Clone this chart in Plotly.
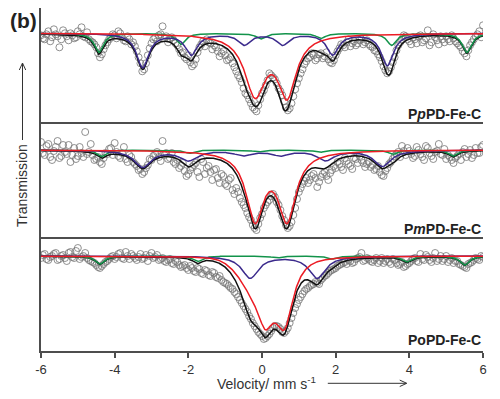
import numpy as np
import plotly.graph_objects as go

# ---------------- data (relative transmission, %) ----------------
# channels at whole tenths and at the half-steps in between (mm/s)
velocity_a = np.round(np.arange(-6.0, 6.0001, 0.1), 2)
velocity_b = np.round(np.arange(-5.95, 5.96, 0.1), 2)

ppd_data_a = [99.8, 99.4, 100.2, 99.6, 99.9, 98.6, 100.3, 99.7, 100.0, 99.5,
              100.2, 100.6, 99.6, 99.4, 99.1, 98.6, 97.6, 98.4, 99.1, 99.6,
              99.8, 100.2, 99.6, 99.2, 99.4, 99.1, 98.2, 97.0, 96.4, 97.8,
              99.0, 99.6, 99.8, 100.7, 99.7, 99.5, 99.3, 98.8, 98.0, 97.6,
              97.8, 96.7, 97.4, 98.6, 99.2, 99.4, 99.0, 98.8, 98.2, 98.0,
              97.8, 97.4, 97.0, 96.2, 95.5, 94.5, 93.8, 93.0, 92.4, 92.8,
              94.0, 94.8, 96.0, 95.6, 95.0, 94.2, 93.2, 92.3, 93.0, 94.4,
              95.5, 96.4, 97.2, 97.6, 97.8, 97.5, 98.0, 97.7, 97.4, 97.0,
              97.8, 98.5, 98.8, 99.1, 98.7, 99.2, 99.0, 99.4, 99.1, 98.9,
              98.6, 98.2, 97.6, 96.7, 96.0, 96.6, 97.6, 98.8, 99.4, 99.7,
              99.2, 99.6, 99.0, 99.8, 99.3, 100.3, 99.1, 99.6, 98.9, 99.4,
              99.7, 99.2, 99.5, 99.0, 98.6, 98.0, 98.3, 99.1, 99.7, 100.2,
              100.8]
ppd_data_b = [99.5, 99.9, 99.2, 100.4, 99.7, 99.4, 100.0, 99.3, 99.8, 99.6,
              99.9, 99.7, 100.1, 99.2, 98.9, 98.0, 97.9, 98.8, 99.4, 99.9,
              99.5, 100.0, 99.3, 99.7, 98.9, 98.7, 97.6, 96.2, 97.0, 98.5,
              99.4, 99.2, 99.9, 99.5, 99.1, 99.6, 99.0, 98.4, 98.1, 97.4,
              97.1, 96.9, 98.1, 98.9, 98.7, 99.1, 98.4, 98.6, 97.7, 98.2,
              97.3, 97.6, 96.6, 95.8, 95.1, 94.0, 93.4, 92.6, 92.2, 93.4,
              94.3, 95.3, 95.8, 95.4, 94.5, 93.8, 92.6, 92.5, 93.7, 95.0,
              96.0, 96.9, 97.5, 98.0, 97.3, 97.9, 97.5, 98.1, 97.1, 97.3,
              98.2, 98.9, 98.6, 99.4, 99.0, 98.8, 99.3, 98.9, 99.3, 98.7,
              98.3, 97.9, 97.2, 96.3, 96.2, 97.1, 98.3, 99.1, 99.8, 99.4,
              98.9, 99.4, 99.7, 99.1, 99.5, 98.8, 99.9, 99.3, 99.7, 99.1,
              99.4, 99.8, 99.2, 98.8, 98.2, 97.7, 98.8, 99.4, 99.9, 99.6]

mpd_data_a = [100.8, 99.5, 100.6, 99.0, 100.3, 99.2, 100.5, 99.6, 98.8, 100.2,
              99.4, 99.7, 101.8, 99.8, 99.5, 99.1, 98.8, 99.2, 99.6, 100.2,
              100.7, 99.4, 99.7, 99.1, 99.5, 98.8, 98.4, 98.1, 97.8, 98.5,
              99.0, 99.6, 99.3, 100.9, 99.7, 99.2, 98.8, 99.0, 98.4, 97.9,
              97.6, 98.3, 98.7, 97.3, 98.8, 98.2, 97.8, 98.0, 97.2, 97.6,
              96.6, 97.0, 96.0, 96.2, 95.2, 94.5, 93.7, 93.0, 92.2, 92.6,
              93.6, 94.5, 95.0, 95.6, 94.8, 94.0, 93.0, 92.2, 92.8, 94.2,
              95.8, 96.6, 97.2, 97.0, 97.6, 96.3, 97.3, 97.8, 97.0, 98.0,
              98.2, 98.6, 98.0, 98.9, 98.4, 99.2, 98.7, 99.0, 98.3, 98.8,
              98.5, 98.1, 97.8, 97.4, 98.2, 98.8, 99.4, 99.8, 100.4, 99.5,
              99.9, 99.2, 100.3, 99.6, 99.0, 100.2, 99.4, 99.8, 100.6, 99.5,
              99.1, 99.3, 98.7, 99.4, 99.0, 100.1, 99.6, 99.2, 100.2, 99.7,
              100.5]
mpd_data_b = [99.7, 100.4, 99.3, 99.9, 100.9, 99.4, 99.8, 100.5, 99.5, 99.1,
              100.3, 99.3, 99.6, 100.6, 99.0, 99.3, 98.6, 99.7, 100.1, 99.5,
              99.8, 99.2, 100.3, 98.8, 99.3, 98.6, 98.0, 97.6, 98.2, 99.1,
              99.4, 99.8, 98.9, 99.5, 99.1, 99.7, 98.6, 98.2, 98.7, 97.4,
              98.0, 98.5, 97.8, 99.1, 97.6, 98.4, 97.0, 98.1, 96.7, 97.4,
              96.4, 97.2, 95.6, 95.8, 94.8, 94.2, 93.3, 92.5, 92.0, 93.2,
              94.2, 94.8, 95.4, 95.3, 94.5, 93.4, 92.5, 92.4, 93.5, 95.1,
              96.2, 96.9, 96.7, 97.4, 97.2, 96.8, 97.6, 97.4, 97.7, 98.4,
              98.8, 98.3, 99.2, 98.6, 98.1, 99.1, 99.4, 98.7, 98.6, 98.3,
              98.0, 98.4, 97.5, 97.9, 98.6, 99.1, 99.6, 99.3, 99.9, 100.2,
              99.6, 99.4, 100.0, 99.3, 100.4, 99.7, 99.1, 99.9, 99.6, 100.1,
              99.5, 99.0, 99.2, 99.6, 99.8, 99.3, 100.0, 99.5, 99.7, 100.3]

opd_data_a = [99.8, 100.2, 99.6, 100.0, 100.3, 99.7, 100.1, 99.5, 100.4, 99.8,
              100.8, 99.9, 100.3, 99.6, 99.4, 99.1, 98.8, 99.2, 99.5, 99.9,
              99.7, 100.2, 99.8, 100.4, 99.7, 100.0, 99.6, 100.2, 99.8, 99.5,
              100.3, 99.9, 99.6, 99.8, 99.4, 99.7, 99.2, 99.4, 98.9, 99.1,
              98.6, 98.8, 98.4, 98.7, 98.2, 98.5, 98.0, 98.3, 97.8, 97.6,
              97.3, 97.0, 96.7, 96.2, 95.6, 95.0, 94.4, 93.7, 93.0, 92.4,
              92.0, 91.8, 92.2, 92.8, 93.0, 92.7, 92.3, 92.8, 93.8, 94.8,
              95.6, 96.2, 96.7, 97.0, 97.2, 97.3, 97.6, 98.0, 98.3, 98.6,
              98.8, 99.1, 99.3, 99.2, 99.5, 99.4, 99.8, 100.3, 99.6, 99.7,
              99.4, 99.8, 99.5, 99.3, 99.7, 99.2, 99.6, 99.1, 99.4, 99.0,
              99.3, 99.7, 99.5, 100.2, 99.6, 99.9, 99.4, 100.3, 99.7, 99.5,
              100.0, 99.6, 99.3, 99.5, 99.1, 98.9, 99.2, 99.4, 99.8, 99.6,
              99.9]
opd_data_b = [100.1, 99.7, 99.9, 100.2, 99.6, 100.0, 99.8, 100.3, 99.9, 100.5,
              99.7, 100.0, 99.8, 99.5, 99.3, 98.9, 99.0, 99.4, 99.7, 100.0,
              99.9, 100.3, 99.7, 100.0, 100.2, 99.8, 99.9, 99.7, 100.1, 100.0,
              99.8, 100.1, 99.7, 99.5, 99.6, 99.3, 99.5, 99.1, 99.0, 98.8,
              99.0, 98.5, 98.8, 98.3, 98.6, 98.1, 98.4, 97.9, 98.0, 97.4,
              97.2, 96.8, 96.4, 95.9, 95.3, 94.7, 94.0, 93.3, 92.7, 92.2,
              91.7, 92.0, 92.5, 93.0, 92.9, 92.4, 92.5, 93.3, 94.3, 95.2,
              95.9, 96.5, 96.8, 97.1, 97.4, 97.2, 97.8, 98.1, 98.5, 98.7,
              99.0, 99.2, 99.4, 99.6, 99.3, 99.7, 99.9, 99.5, 99.8, 99.5,
              99.6, 99.3, 99.8, 99.5, 99.4, 99.7, 99.3, 99.2, 98.9, 99.2,
              99.5, 99.8, 99.4, 99.7, 100.1, 99.6, 99.8, 99.5, 100.0, 99.7,
              99.4, 99.8, 99.5, 99.2, 99.0, 98.8, 99.3, 99.6, 99.7, 100.0]

# ---------------- fitted sub-spectra (positions mm/s, depths %, half widths mm/s) ----------------
ppd_red_pos = [-0.19, 0.68]
ppd_red_amp = [5.9, 5.9]
ppd_red_hw = [0.34, 0.30]
ppd_blue_pos = [-3.24, -1.92, -0.48, 0.56, 1.92, 3.40]
ppd_blue_amp = [3.4, 2.1, 1.1, 1.1, 2.1, 3.2]
ppd_blue_hw = [0.2, 0.2, 0.2, 0.2, 0.2, 0.2]
ppd_green_pos = [-4.43, -2.20, -0.04, 1.60, 3.52, 5.56]
ppd_green_amp = [1.9, 1.1, 0.55, 0.5, 1.2, 1.9]
ppd_green_hw = [0.15, 0.15, 0.15, 0.15, 0.15, 0.15]

mpd_red_pos = [-0.19, 0.68]
mpd_red_amp = [6.7, 6.7]
mpd_red_hw = [0.29, 0.29]
mpd_blue_pos = [-3.24, -2.00, -0.51, 0.50, 1.73, 3.27]
mpd_blue_amp = [1.7, 1.0, 0.5, 0.5, 1.0, 1.6]
mpd_blue_hw = [0.28, 0.28, 0.28, 0.28, 0.28, 0.28]
mpd_green_pos = [-4.35, -1.97, -0.10, 1.57, 3.56, 5.19]
mpd_green_amp = [0.65, 0.33, 0.2, 0.23, 0.43, 0.6]
mpd_green_hw = [0.15, 0.15, 0.15, 0.15, 0.15, 0.15]

opd_red_pos = [0.09, 0.62, 0.0]
opd_red_amp = [2.5, 5.2, 3.8]
opd_red_hw = [0.22, 0.28, 0.5]
opd_red_shape = ["L", "L", "G"]
opd_blue_pos = [-0.32, 1.50]
opd_blue_amp = [2.2, 2.2]
opd_blue_hw = [0.27, 0.27]
opd_green_pos = [-4.40, -1.75, 0.40, 1.90, 3.92, 5.50]
opd_green_amp = [0.8, 0.55, 0.2, 0.3, 0.6, 0.9]
opd_green_hw = [0.15, 0.15, 0.15, 0.15, 0.15, 0.15]

panel_labels = ["<b>P<i>p</i>PD-Fe-C</b>", "<b>P<i>m</i>PD-Fe-C</b>", "<b>PoPD-Fe-C</b>"]
x_tick_vals = [-6, -4, -2, 0, 2, 4, 6]
x_tick_text = ["-6", "-4", "-2", "0", "2", "4", "6"]

# ---------------- model ----------------
vfine = np.linspace(-6, 6, 1201)


def absorption(v, pos, amp, hw, shape=None):
    d = np.zeros_like(v)
    for i, (p, a, w) in enumerate(zip(pos, amp, hw)):
        if shape is not None and shape[i] == "G":
            d += a * np.exp(-0.5 * ((v - p) / w) ** 2)
        else:
            d += a / (1.0 + ((v - p) / w) ** 2)
    return d


velocity = np.concatenate([velocity_a, velocity_b])
panels = [
    dict(data=ppd_data_a + ppd_data_b,
         red=absorption(vfine, ppd_red_pos, ppd_red_amp, ppd_red_hw),
         blue=absorption(vfine, ppd_blue_pos, ppd_blue_amp, ppd_blue_hw),
         green=absorption(vfine, ppd_green_pos, ppd_green_amp, ppd_green_hw)),
    dict(data=mpd_data_a + mpd_data_b,
         red=absorption(vfine, mpd_red_pos, mpd_red_amp, mpd_red_hw),
         blue=absorption(vfine, mpd_blue_pos, mpd_blue_amp, mpd_blue_hw),
         green=absorption(vfine, mpd_green_pos, mpd_green_amp, mpd_green_hw)),
    dict(data=opd_data_a + opd_data_b,
         red=absorption(vfine, opd_red_pos, opd_red_amp, opd_red_hw, opd_red_shape),
         blue=absorption(vfine, opd_blue_pos, opd_blue_amp, opd_blue_hw),
         green=absorption(vfine, opd_green_pos, opd_green_amp, opd_green_hw)),
]

# ---------------- figure geometry ----------------
# page body has an 8 px margin, so the figure is sized to end at the window edge
W, H = 492, 391
PLOT_L, PLOT_R, PLOT_T, PLOT_B = 41.0, 483.3, 8.0, 351.0   # in window pixels
ML = PLOT_L - 8
MR = 500 - PLOT_R
MT = PLOT_T - 8
MB = 399 - PLOT_B


def fy(py):
    return (PLOT_B - py) / (PLOT_B - PLOT_T)


def fx(px):
    return (px - PLOT_L) / (PLOT_R - PLOT_L)


domains = [[fy(121.7), 1.0], [fy(236.7), fy(121.7)], [0.0, fy(236.7)]]
yranges = [[91.16, 102.53], [91.33, 102.83], [90.5, 101.93]]

BLACK = "#111111"
RED = "#ec1c24"
GREEN = "#12934a"
BLUE = "#3b2a8c"
GRAY = "#747474"
AXC = "#4d4d4d"

fig = go.Figure()
for i, pnl in enumerate(panels):
    xa = "x" if i == 0 else f"x{i+1}"
    ya = "y" if i == 0 else f"y{i+1}"
    fig.add_trace(go.Scatter(x=velocity, y=pnl["data"], mode="markers", xaxis=xa, yaxis=ya,
                             marker=dict(symbol="circle-open", size=7, color=GRAY,
                                         line=dict(width=0.8, color=GRAY)),
                             showlegend=False, hoverinfo="skip"))
    total = 100 - (pnl["red"] + pnl["blue"] + pnl["green"])
    fig.add_trace(go.Scatter(x=vfine, y=total, mode="lines", xaxis=xa, yaxis=ya,
                             line=dict(color=BLACK, width=1.5), showlegend=False))
    fig.add_trace(go.Scatter(x=vfine, y=100 - pnl["green"], mode="lines", xaxis=xa, yaxis=ya,
                             line=dict(color=GREEN, width=1.5), showlegend=False))
    fig.add_trace(go.Scatter(x=vfine, y=100 - pnl["blue"], mode="lines", xaxis=xa, yaxis=ya,
                             line=dict(color=BLUE, width=1.5), showlegend=False))
    fig.add_trace(go.Scatter(x=vfine, y=100 - pnl["red"], mode="lines", xaxis=xa, yaxis=ya,
                             line=dict(color=RED, width=1.5), showlegend=False))

layout = dict(width=W, height=H, margin=dict(l=ML, r=MR, t=MT, b=MB, pad=0),
              paper_bgcolor="white", plot_bgcolor="white",
              font=dict(family="Arial, Liberation Sans, sans-serif", color="#333333"),
              showlegend=False)

for i in range(3):
    xk = "xaxis" if i == 0 else f"xaxis{i+1}"
    yk = "yaxis" if i == 0 else f"yaxis{i+1}"
    ya = "y" if i == 0 else f"y{i+1}"
    xa = "x" if i == 0 else f"x{i+1}"
    xcfg = dict(domain=[0, 1], range=[-6, 6], anchor=ya, showline=True, linecolor=AXC,
                linewidth=2, showgrid=False, zeroline=False, automargin=False)
    if i < 2:
        xcfg.update(showticklabels=False, ticks="")
    else:
        xcfg.update(tickmode="array", tickvals=x_tick_vals, ticktext=x_tick_text, ticks="outside",
                    ticklen=5, tickwidth=1.5, tickcolor=AXC,
                    tickfont=dict(size=13, color="#333333"))
    layout[xk] = xcfg
    layout[yk] = dict(domain=domains[i], range=yranges[i], anchor=xa, showline=True,
                      linecolor=AXC, linewidth=2, showticklabels=False, ticks="",
                      showgrid=False, zeroline=False, automargin=False)

fig.update_layout(**layout)

ann = []
label_y = [114, 229, 340]
for i in range(3):
    ann.append(dict(text=panel_labels[i], xref="paper", yref="paper", x=1.0, y=fy(label_y[i]),
                    xanchor="right", yanchor="middle", showarrow=False,
                    font=dict(size=14, color="#222222")))
ann.append(dict(text="<b>(b)</b>", xref="paper", yref="paper", x=fx(23), y=fy(21),
                xanchor="center", yanchor="middle", showarrow=False,
                font=dict(size=21, color="#222222")))
ann.append(dict(text="Velocity/ mm s<sup>-1</sup>", xref="paper", yref="paper", x=fx(267), y=fy(383),
                xanchor="center", yanchor="middle", showarrow=False,
                font=dict(size=14, color="#333333")))
ann.append(dict(text="Transmission", xref="paper", yref="paper", x=fx(22), y=fy(186),
                xanchor="center", yanchor="middle", textangle=-90, showarrow=False,
                font=dict(size=14, color="#333333")))
fig.update_layout(annotations=ann)

# arrows next to the axis titles (decorations, drawn in paper coordinates)
arrow_line = dict(color="#333333", width=1)
ax_y = 383.3
fig.add_shape(type="line", xref="paper", yref="paper", x0=fx(328), x1=fx(406.5),
              y0=fy(ax_y), y1=fy(ax_y), line=arrow_line)
fig.add_shape(type="path", xref="paper", yref="paper",
              path=f"M {fx(400):.5f},{fy(ax_y - 3.2):.5f} L {fx(407):.5f},{fy(ax_y):.5f} "
                   f"L {fx(400):.5f},{fy(ax_y + 3.2):.5f}",
              line=arrow_line)
ay_x = 22.5
fig.add_shape(type="line", xref="paper", yref="paper", x0=fx(ay_x), x1=fx(ay_x),
              y0=fy(140), y1=fy(63.5), line=arrow_line)
fig.add_shape(type="path", xref="paper", yref="paper",
              path=f"M {fx(ay_x - 3.2):.5f},{fy(70):.5f} L {fx(ay_x):.5f},{fy(63):.5f} "
                   f"L {fx(ay_x + 3.2):.5f},{fy(70):.5f}",
              line=arrow_line)

fig.write_html("out.html")
